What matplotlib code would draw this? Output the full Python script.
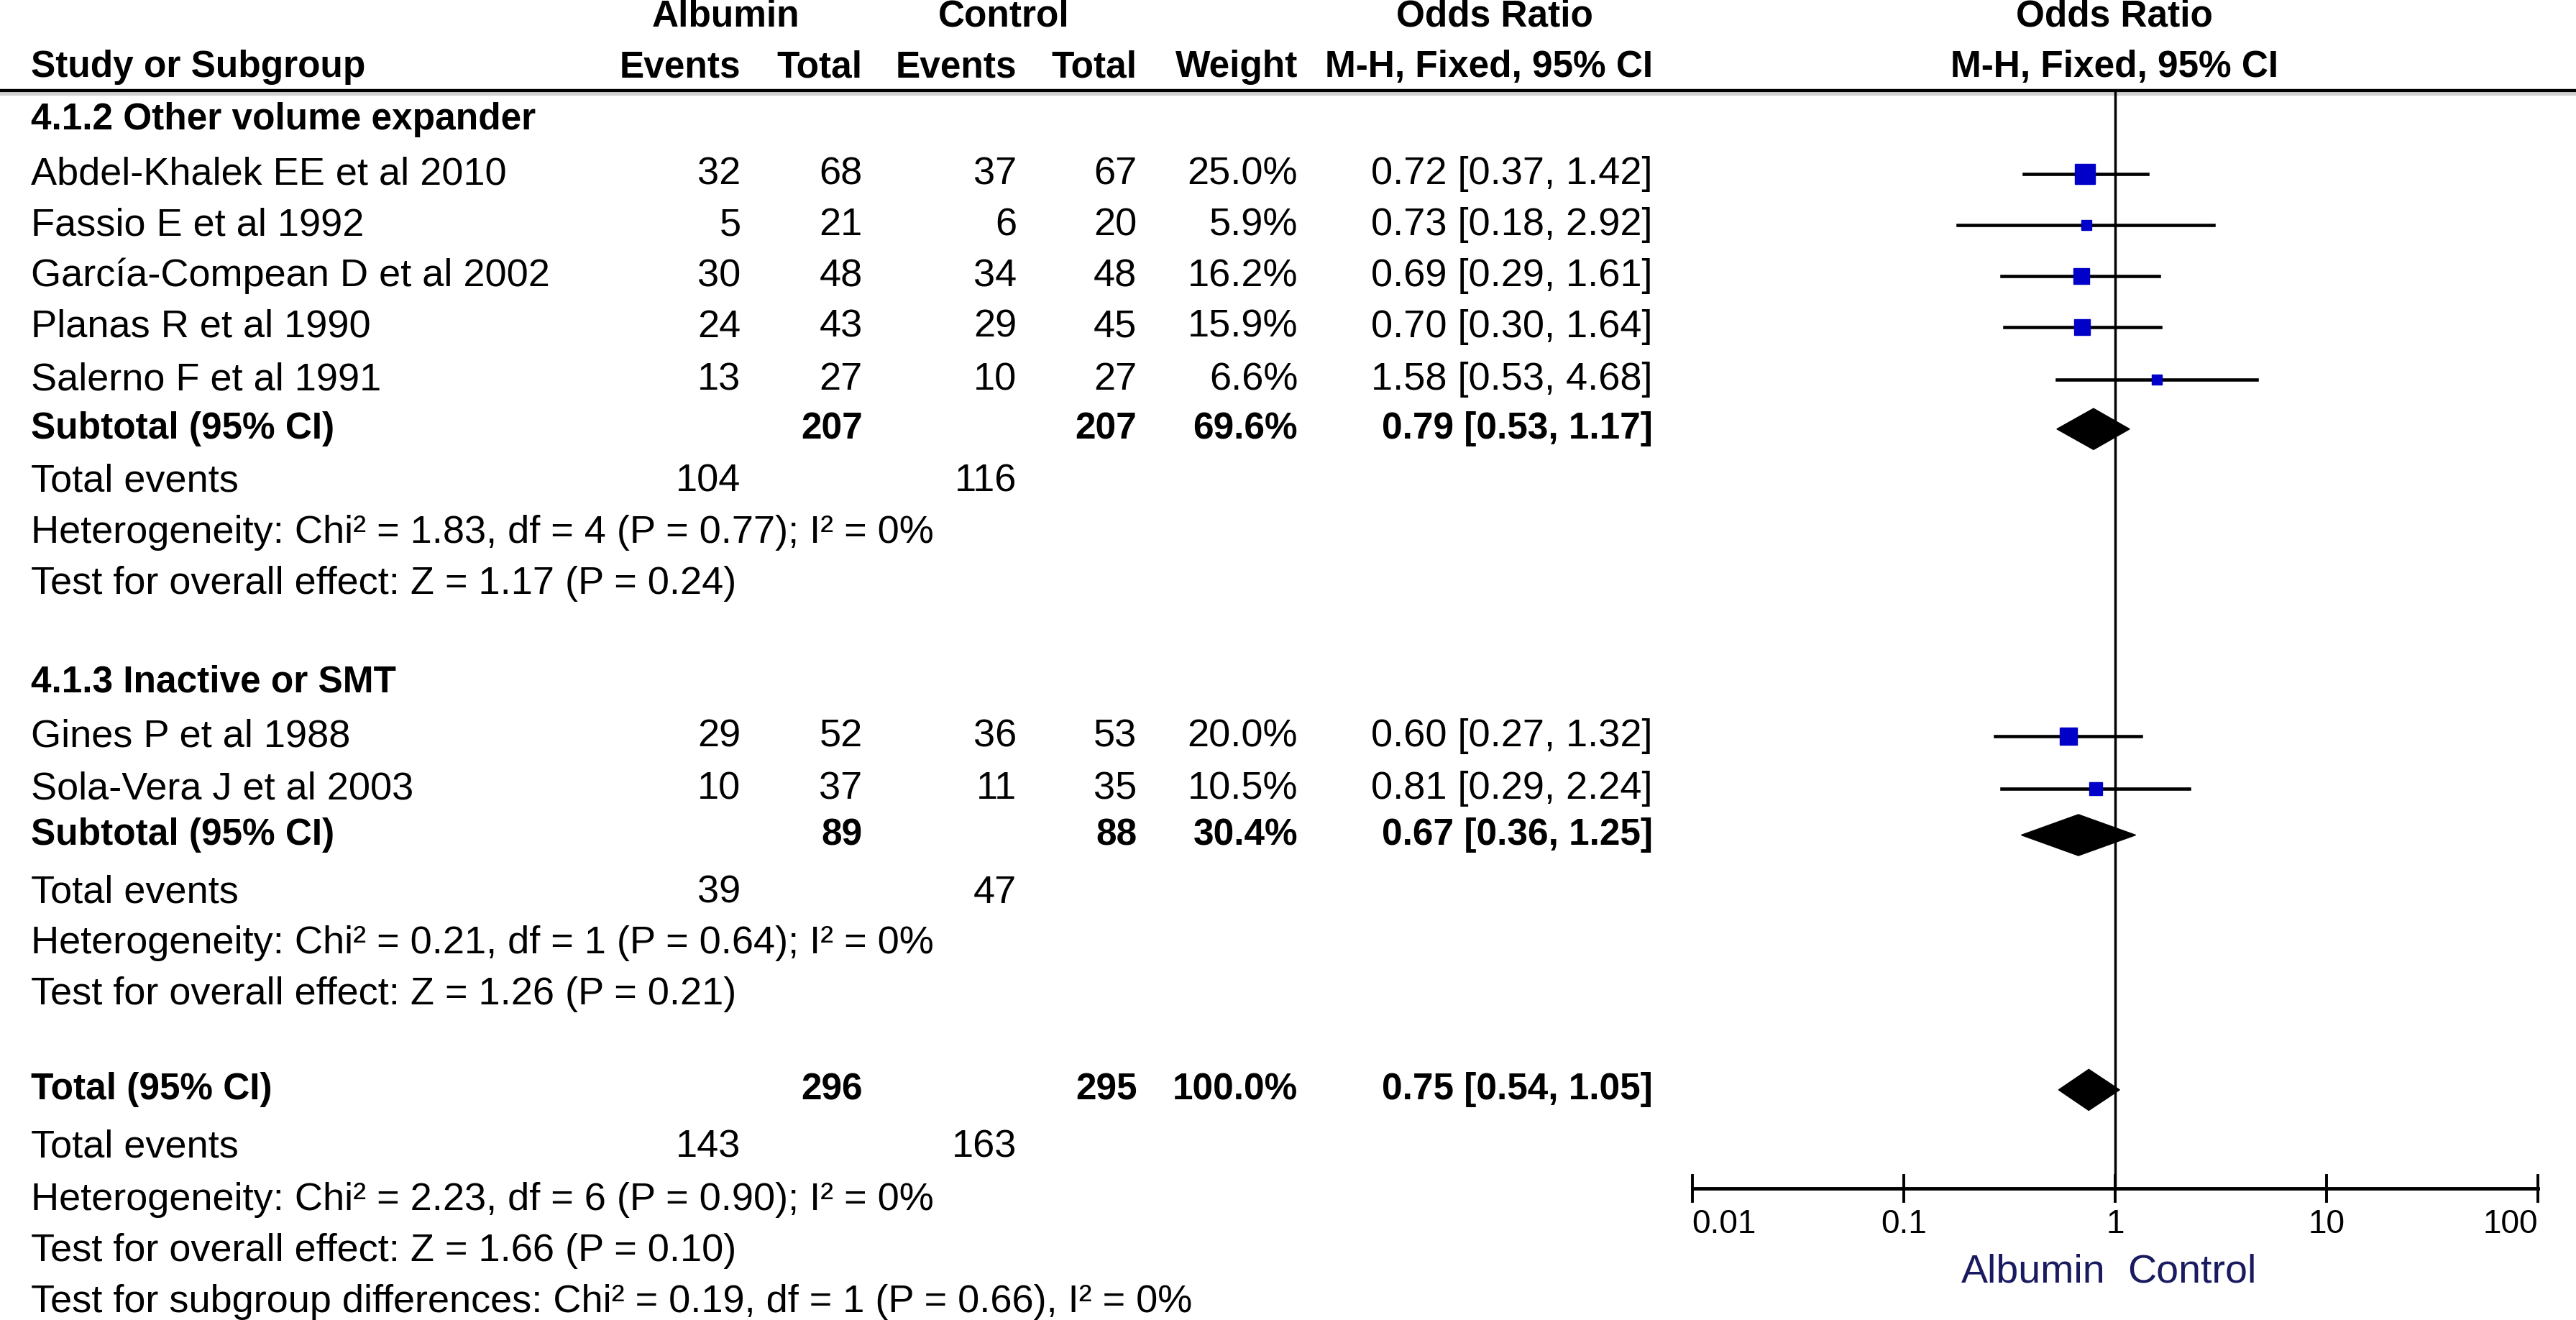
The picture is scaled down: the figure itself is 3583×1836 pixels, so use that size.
import numpy as np
import matplotlib.pyplot as plt

plt.rcParams['font.family'] = ['Liberation Sans', 'DejaVu Sans']

# Datos de los estudios
studies = ["Abdel-Khalek EE et al 2010", "Fassio E et al 1992", "García-Compean D et al 2002",
           "Planas R et al 1990", "Salerno F et al 1991", "Gines P et al 1988", "Sola-Vera J et al 2003"]
alb_events = [32, 5, 30, 24, 13, 29, 10]
alb_total = [68, 21, 48, 43, 27, 52, 37]
ctl_events = [37, 6, 34, 29, 10, 36, 11]
ctl_total = [67, 20, 48, 45, 27, 53, 35]
weights = [25.0, 5.9, 16.2, 15.9, 6.6, 20.0, 10.5]
odds = [0.72, 0.73, 0.69, 0.70, 1.58, 0.60, 0.81]
ci_lo = [0.37, 0.18, 0.29, 0.30, 0.53, 0.27, 0.29]
ci_hi = [1.42, 2.92, 1.61, 1.64, 4.68, 1.32, 2.24]

# Subgrupos
groups = ["4.1.2 Other volume expander", "4.1.3 Inactive or SMT"]
group_idx = [[0, 1, 2, 3, 4], [5, 6]]
sub_alb_total = [207, 89]
sub_ctl_total = [207, 88]
sub_weight = [69.6, 30.4]
sub_or = [0.79, 0.67]
sub_lo = [0.53, 0.36]
sub_hi = [1.17, 1.25]
sub_alb_events = [104, 39]
sub_ctl_events = [116, 47]
sub_het = ["Heterogeneity: Chi² = 1.83, df = 4 (P = 0.77); I² = 0%",
           "Heterogeneity: Chi² = 0.21, df = 1 (P = 0.64); I² = 0%"]
sub_test = ["Test for overall effect: Z = 1.17 (P = 0.24)",
            "Test for overall effect: Z = 1.26 (P = 0.21)"]

# Total
tot_alb_total, tot_ctl_total = 296, 295
tot_or, tot_lo, tot_hi = 0.75, 0.54, 1.05
tot_alb_events, tot_ctl_events = 143, 163
tot_lines = ["Heterogeneity: Chi² = 2.23, df = 6 (P = 0.90); I² = 0%",
             "Test for overall effect: Z = 1.66 (P = 0.10)",
             "Test for subgroup differences: Chi² = 0.19, df = 1 (P = 0.66), I² = 0%"]

ticks = [0.01, 0.1, 1, 10, 100]
tick_labels = ["0.01", "0.1", "1", "10", "100"]

# Posiciones verticales (unidades de la imagen reducida)
W, H = 1568, 803
group_y = [73, 415]
study_y = [[106, 137, 168, 199, 231], [448, 480]]
sub_y = [261, 508]
events_y = [293, 543]
het_y = [324, 574]
test_y = [355, 605]
total_y = 663
tot_events_y = 698
tot_lines_y = [730, 761, 792]
axis_y = 723

FS = 39
FSB = 37
X0 = 19
col_ae, col_at, col_ce, col_ct, col_w, col_or = 451, 525, 619, 692, 790, 1006
blue = '#0000c8'
DH = 12.5  # media altura de los rombos

fig = plt.figure(figsize=(35.83, 18.36), dpi=100)
ax = fig.add_axes([0, 0, 1, 1])
ax.set_xlim(0, W)
ax.set_ylim(H, 0)
ax.axis('off')

fx0, fx1 = 1030 / W, 1545 / W
axf = fig.add_axes([fx0, 0, fx1 - fx0, 1])
axf.set_xscale('log')
axf.set_xlim(0.01, 100)
axf.set_ylim(H, 0)
axf.axis('off')

def txt(x, y, s, ha='left', bold=False):
    ax.text(x, y, s, ha=ha, va='center', fontsize=FSB if bold else FS,
            fontweight='bold' if bold else 'normal')

# Encabezados
txt(442, 10, "Albumin", 'center', True)
txt(611, 10, "Control", 'center', True)
txt(910, 10, "Odds Ratio", 'center', True)
txt(1287, 10, "Odds Ratio", 'center', True)
txt(X0, 41, "Study or Subgroup", bold=True)
txt(col_ae, 41, "Events", 'right', True)
txt(col_at, 41, "Total", 'right', True)
txt(col_ce, 41, "Events", 'right', True)
txt(col_ct, 41, "Total", 'right', True)
txt(col_w, 41, "Weight", 'right', True)
txt(col_or, 41, "M-H, Fixed, 95% CI", 'right', True)
txt(1287, 41, "M-H, Fixed, 95% CI", 'center', True)
ax.plot([0, W], [57.5, 57.5], color='#d0d0d0', lw=3, solid_capstyle='butt')
ax.plot([0, W], [55, 55], color='black', lw=3.2, solid_capstyle='butt')

for g in range(2):
    txt(X0, group_y[g], groups[g], bold=True)
    for i, y in zip(group_idx[g], study_y[g]):
        txt(X0, y, studies[i])
        txt(col_ae, y, str(alb_events[i]), 'right')
        txt(col_at, y, str(alb_total[i]), 'right')
        txt(col_ce, y, str(ctl_events[i]), 'right')
        txt(col_ct, y, str(ctl_total[i]), 'right')
        txt(col_w, y, f"{weights[i]:.1f}%", 'right')
        txt(col_or, y, f"{odds[i]:.2f} [{ci_lo[i]:.2f}, {ci_hi[i]:.2f}]", 'right')
        axf.plot([ci_lo[i], ci_hi[i]], [y, y], color='black', lw=3.3, zorder=2)
        axf.plot([odds[i]], [y], marker='s', ms=4.0 * np.sqrt(weights[i]),
                 color=blue, mec=blue, zorder=3)
    y = sub_y[g]
    txt(X0, y, "Subtotal (95% CI)", bold=True)
    txt(col_at, y, str(sub_alb_total[g]), 'right', True)
    txt(col_ct, y, str(sub_ctl_total[g]), 'right', True)
    txt(col_w, y, f"{sub_weight[g]:.1f}%", 'right', True)
    txt(col_or, y, f"{sub_or[g]:.2f} [{sub_lo[g]:.2f}, {sub_hi[g]:.2f}]", 'right', True)
    axf.fill([sub_lo[g], sub_or[g], sub_hi[g], sub_or[g]], [y, y - DH, y, y + DH],
             color='black', zorder=3)
    txt(X0, events_y[g], "Total events")
    txt(col_ae, events_y[g], str(sub_alb_events[g]), 'right')
    txt(col_ce, events_y[g], str(sub_ctl_events[g]), 'right')
    txt(X0, het_y[g], sub_het[g])
    txt(X0, test_y[g], sub_test[g])

# Total general
txt(X0, total_y, "Total (95% CI)", bold=True)
txt(col_at, total_y, str(tot_alb_total), 'right', True)
txt(col_ct, total_y, str(tot_ctl_total), 'right', True)
txt(col_w, total_y, "100.0%", 'right', True)
txt(col_or, total_y, f"{tot_or:.2f} [{tot_lo:.2f}, {tot_hi:.2f}]", 'right', True)
axf.fill([tot_lo, tot_or, tot_hi, tot_or], [total_y, total_y - DH, total_y, total_y + DH],
         color='black', zorder=3)
txt(X0, tot_events_y, "Total events")
txt(col_ae, tot_events_y, str(tot_alb_events), 'right')
txt(col_ce, tot_events_y, str(tot_ctl_events), 'right')
for s, y in zip(tot_lines, tot_lines_y):
    txt(X0, y, s)

# Eje del forest plot
axf.plot([1, 1], [55, axis_y], color='black', lw=2.5, zorder=1)
axf.plot([ticks[0], ticks[-1]], [axis_y, axis_y], color='black', lw=3.5, clip_on=False)
for t, lab in zip(ticks, tick_labels):
    axf.plot([t, t], [axis_y - 8, axis_y + 8], color='black', lw=2.8, clip_on=False)
    ha = 'left' if t == ticks[0] else ('right' if t == ticks[-1] else 'center')
    axf.text(t, 745, lab, ha=ha, va='center', fontsize=33, clip_on=False)
axf.text(0.9, 774, "Albumin", ha='right', va='center', fontsize=40, color='#1a1a60')
axf.text(1.14, 774, "Control", ha='left', va='center', fontsize=40, color='#1a1a60')

fig.savefig('out.png', dpi=100)
